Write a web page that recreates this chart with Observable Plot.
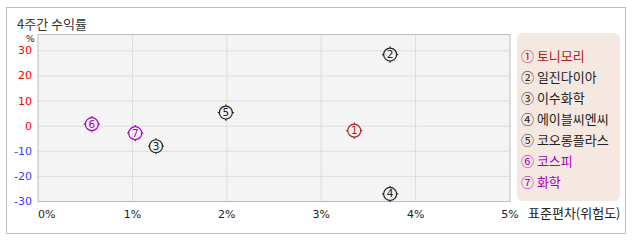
<!DOCTYPE html>
<html><head><meta charset="utf-8">
<script src="https://cdn.jsdelivr.net/npm/d3@7"></script>
<script src="https://cdn.jsdelivr.net/npm/@observablehq/plot@0.6"></script>
<style>
body{margin:0;background:#fff;}
#wrap{position:relative;width:638px;height:242px;overflow:hidden;font-family:"Noto Sans CJK KR","DejaVu Sans",sans-serif;}
#box{position:absolute;left:6px;top:7px;width:620px;height:227px;border:1px solid #c0c0c0;box-sizing:border-box;}
#chart{position:absolute;left:0;top:0;}
#legend{position:absolute;left:517px;top:33px;width:103px;height:168px;background:#f5e8e1;border-radius:6px;box-sizing:border-box;padding:12px 0 0 4px;font-size:13px;}
#legend div{height:21px;line-height:21px;white-space:nowrap;}
</style></head><body>
<div id="wrap">
 <div id="box"></div>
 <div id="chart"></div>
 <div id="legend"></div>
</div>
<script>
const names = ["토니모리","일진다이아","이수화학","에이블씨엔씨","코오롱플라스","코스피","화학"];
const circled = ["①","②","③","④","⑤","⑥","⑦"];
const stdDev = [3.35, 3.73, 1.25, 3.73, 1.99, 0.57, 1.03];
const returns = [-1.8, 28.5, -8.0, -27.0, 5.4, 0.8, -2.8];
const colors = ["#b01c1c","#222222","#222222","#222222","#222222","#a400c4","#a400c4"];
const xTicks = [0, 1, 2, 3, 4, 5];
const yTicks = [30, 20, 10, 0, -10, -20, -30];
const title = "4주간 수익률";
const xLabel = "표준편차(위험도)";

const data = names.map((n, i) => ({name: n, num: String(i + 1), x: stdDev[i], y: returns[i], color: colors[i]}));

const ringSymbol = {
  draw(ctx, size) {
    const r = Math.sqrt(size / Math.PI);
    ctx.moveTo(r, 0);
    ctx.arc(0, 0, r, 0, 2 * Math.PI);
    const t = 1.6;
    ctx.moveTo(r, 0); ctx.lineTo(r + t, 0);
    ctx.moveTo(-r, 0); ctx.lineTo(-r - t, 0);
    ctx.moveTo(0, r); ctx.lineTo(0, r + t);
    ctx.moveTo(0, -r); ctx.lineTo(0, -r - t);
  }
};

const chart = Plot.plot({
  width: 638, height: 242,
  marginLeft: 37.5, marginRight: 128.5, marginTop: 34, marginBottom: 41,
  style: {fontFamily: '"DejaVu Sans", sans-serif', fontSize: "11px", background: "transparent", overflow: "visible"},
  x: {domain: [0, 5], axis: null},
  y: {domain: [-30, 36.5], axis: null},
  marks: [
    Plot.frame({fill: "#f4f4f4"}),
    Plot.ruleX(xTicks.filter(d => d > 0 && d < 5), {stroke: "#dcdcdc"}),
    Plot.ruleY(yTicks.filter(d => d > -30), {stroke: "#dcdcdc"}),
    Plot.frame({stroke: "#bdbdbd"}),
    Plot.text(yTicks.filter(d => d >= 0), {y: d => d, text: d => String(d), frameAnchor: "left", dx: -6, textAnchor: "end", fill: "#ff0000", fontSize: 11}),
    Plot.text(yTicks.filter(d => d < 0), {y: d => d, text: d => String(d), frameAnchor: "left", dx: -6, textAnchor: "end", fill: "#3b3bff", fontSize: 11}),
    Plot.text(["%"], {frameAnchor: "top-left", dx: -12, dy: 1, text: d => d, fill: "#222", fontSize: 9}),
    Plot.text(xTicks.filter(d => d === 0), {x: d => d, text: d => d + "%", frameAnchor: "bottom", dy: 16, textAnchor: "start", fill: "#222", fontSize: 11}),
    Plot.text(xTicks.filter(d => d > 0), {x: d => d, text: d => d + "%", frameAnchor: "bottom", dy: 16, fill: "#222", fontSize: 11}),
    Plot.text([xLabel], {frameAnchor: "bottom-right", dx: 18, dy: 16, textAnchor: "start", text: d => d, fill: "#222", fontSize: 13, fontFamily: '"Noto Sans CJK KR", sans-serif'}),
    Plot.text([title], {frameAnchor: "top-left", dx: -21, dy: -15, textAnchor: "start", text: d => d, fill: "#333", fontSize: 13, fontFamily: '"Noto Sans CJK KR", sans-serif'}),
    Plot.dot(data, {x: "x", y: "y", r: 6.5, symbol: ringSymbol, stroke: d => d.color, fill: "none", strokeWidth: 1.2}),
    Plot.text(data, {x: "x", y: "y", text: "num", fill: d => d.color, fontSize: 10.5})
  ],
  color: {type: "identity"}
});
document.getElementById("chart").appendChild(chart);

const legend = document.getElementById("legend");
names.forEach((n, i) => {
  const div = document.createElement("div");
  div.textContent = circled[i] + " " + n;
  div.style.color = colors[i];
  legend.appendChild(div);
});
</script>
</body></html>
